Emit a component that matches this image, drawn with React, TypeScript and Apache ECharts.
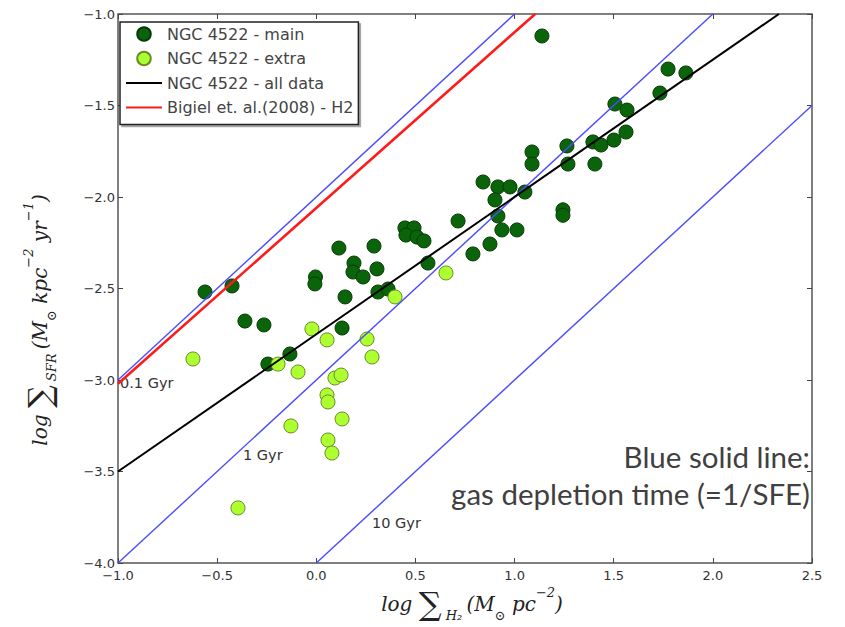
import React, { useEffect, useRef } from "react";
import * as echarts from "echarts";

// ---- Data ----
// NGC 4522 - main : [log Σ_H2, log Σ_SFR]
const mainPoints: [number, number][] = [
  [-0.561, -2.519], [-0.425, -2.486], [-0.36, -2.678], [-0.264, -2.699],
  [-0.244, -2.913], [-0.133, -2.858], [-0.004, -2.437], [-0.007, -2.475],
  [0.114, -2.279], [0.13, -2.716], [0.145, -2.546], [0.19, -2.361],
  [0.185, -2.41], [0.236, -2.437], [0.306, -2.393], [0.291, -2.268],
  [0.311, -2.519], [0.362, -2.503], [0.447, -2.169], [0.493, -2.169],
  [0.452, -2.208], [0.508, -2.219], [0.543, -2.24], [0.563, -2.361],
  [0.715, -2.131], [0.79, -2.311], [0.876, -2.257], [0.841, -1.918],
  [0.916, -1.945], [0.977, -1.945], [0.901, -2.016], [1.052, -1.973],
  [0.916, -2.104], [0.936, -2.18], [1.012, -2.18], [1.244, -2.07],
  [1.244, -2.1], [1.088, -1.754], [1.088, -1.82], [1.264, -1.721],
  [1.269, -1.82], [1.405, -1.82], [1.395, -1.699], [1.436, -1.716],
  [1.501, -1.689], [1.562, -1.645], [1.506, -1.492], [1.567, -1.525],
  [1.733, -1.432], [1.774, -1.301], [1.864, -1.322], [1.138, -1.12],
];

// NGC 4522 - extra
const extraPoints: [number, number][] = [
  [-0.622, -2.885], [-0.193, -2.913], [-0.092, -2.956], [-0.022, -2.721],
  [0.054, -2.781], [0.256, -2.776], [0.281, -2.874], [0.094, -2.989],
  [0.125, -2.973], [0.054, -3.082], [0.059, -3.12], [0.13, -3.213],
  [-0.128, -3.251], [0.059, -3.328], [0.079, -3.399], [-0.395, -3.699],
  [0.397, -2.546], [0.654, -2.415],
];

// Fit to all data (end points)
const allDataFit: [number, number][] = [[-1.0, -3.5], [2.333, -1.0]];
// Bigiel et al. (2008) - H2
const bigielLine: [number, number][] = [[-1.0, -3.02], [1.104, -1.0]];
// Gas depletion times
const tdep01: [number, number][] = [[-1.0, -3.0], [1.0, -1.0]];
const tdep1: [number, number][] = [[-1.0, -4.0], [2.0, -1.0]];
const tdep10: [number, number][] = [[0.0, -4.0], [2.5, -1.5]];

const seriesNames = [
  "NGC 4522 - main",
  "NGC 4522 - extra",
  "NGC 4522 - all data",
  "Bigiel et. al.(2008) - H2",
];
const gyrLabels = ["0.1 Gyr", "1 Gyr", "10 Gyr"];
const noteLines = ["Blue solid line:", "gas depletion time (=1/SFE)"];

const X_MIN = -1.0, X_MAX = 2.5, X_STEP = 0.5;
const Y_MIN = -4.0, Y_MAX = -1.0, Y_STEP = 0.5;

const fmt = (v: number) => v.toFixed(1).replace("-", "\u2212");

export default function App() {
  const ref = useRef<HTMLDivElement>(null);
  useEffect(() => {
    document.body.style.margin = "0";
    if (!ref.current) return;
    const chart = echarts.init(ref.current, null, { renderer: "svg" });
    const tickFont = {
      fontFamily: "DejaVu Sans",
      fontSize: 13,
      color: "#333",
    };
    const serifI = { fontFamily: "DejaVu Serif", fontStyle: "italic", fontSize: 20, fill: "#222" };
    const rich = {
      i: { ...serifI, lineHeight: 36 },
      big: { fontFamily: "DejaVu Serif", fontSize: 32, fill: "#222", lineHeight: 36 },
      sub: { ...serifI, fontSize: 13, verticalAlign: "bottom", lineHeight: 24 },
      sup: { ...serifI, fontSize: 13, verticalAlign: "top", lineHeight: 24 },
    };
    const hiddenAxisLine = { show: false, onZero: false };
    const tick = { show: true, inside: true, length: 5, lineStyle: { color: "#444" } };
    const blueLine = (data: [number, number][]) => ({
      type: "line",
      data,
      symbol: "none",
      silent: true,
      z: 4,
      lineStyle: { color: "#4b4bff", width: 1.4 },
    });
    const gyrStyle = { fontFamily: "DejaVu Sans", fontSize: 14.5, fill: "#333", verticalAlign: "middle" };
    const noteStyle = { fontFamily: "Lato", fontSize: 29.5, fill: "#404040", align: "right", verticalAlign: "middle" };
    const option: any = {
      animation: false,
      grid: {
        left: 118,
        top: 14,
        right: 33,
        bottom: 64,
        show: true,
        borderColor: "#555",
        borderWidth: 1.5,
        backgroundColor: "#fff",
      },
      xAxis: [
        {
          type: "value", min: X_MIN, max: X_MAX, interval: X_STEP,
          axisLine: hiddenAxisLine, splitLine: { show: false }, axisTick: tick,
          axisLabel: { ...tickFont, margin: 6, formatter: fmt },
        },
        {
          type: "value", position: "top", min: X_MIN, max: X_MAX, interval: X_STEP,
          axisLine: hiddenAxisLine, splitLine: { show: false }, axisTick: tick,
          axisLabel: { show: false },
        },
      ],
      yAxis: [
        {
          type: "value", position: "left", min: Y_MIN, max: Y_MAX, interval: Y_STEP,
          axisLine: hiddenAxisLine, splitLine: { show: false }, axisTick: tick,
          axisLabel: { ...tickFont, margin: 3, formatter: fmt },
        },
        {
          type: "value", position: "right", min: Y_MIN, max: Y_MAX, interval: Y_STEP,
          axisLine: hiddenAxisLine, splitLine: { show: false }, axisTick: tick,
          axisLabel: { show: false },
        },
      ],
      legend: {
        data: seriesNames,
        orient: "vertical",
        left: 120,
        top: 22,
        padding: [4, 5, 9, 5],
        itemGap: 8.5,
        itemWidth: 36,
        itemHeight: 13.5,
        backgroundColor: "#fff",
        borderColor: "#222",
        borderWidth: 1.5,
        shadowColor: "rgba(0,0,0,0.35)",
        shadowOffsetX: 2,
        shadowOffsetY: 2,
        shadowBlur: 1,
        textStyle: { fontFamily: "DejaVu Sans", fontSize: 16, color: "#444" },
        selectedMode: false,
      },
      series: [
        {
          name: seriesNames[0],
          type: "scatter",
          data: mainPoints,
          symbol: "circle",
          symbolSize: 14,
          z: 2,
          itemStyle: { color: "#0a650a", borderColor: "#073a07", borderWidth: 1, opacity: 1 },
        },
        {
          name: seriesNames[1],
          type: "scatter",
          data: extraPoints,
          symbol: "circle",
          symbolSize: 14,
          z: 2,
          itemStyle: { color: "#adff2f", borderColor: "#6a8a2a", borderWidth: 1, opacity: 1 },
        },
        blueLine(tdep01),
        blueLine(tdep1),
        blueLine(tdep10),
        {
          name: seriesNames[2],
          type: "line",
          data: allDataFit,
          symbol: "none",
          z: 5,
          lineStyle: { color: "#000", width: 2 },
          itemStyle: { color: "rgba(0,0,0,0)", borderWidth: 0 },
        },
        {
          name: seriesNames[3],
          type: "line",
          data: bigielLine,
          symbol: "none",
          z: 5,
          lineStyle: { color: "#ff1a1a", width: 2.6 },
          itemStyle: { color: "rgba(0,0,0,0)", borderWidth: 0 },
        },
      ],
      graphic: [
        { type: "text", x: 120, y: 383, style: { text: gyrLabels[0], ...gyrStyle } },
        { type: "text", x: 243, y: 455, style: { text: gyrLabels[1], ...gyrStyle } },
        { type: "text", x: 372, y: 523, style: { text: gyrLabels[2], ...gyrStyle } },
        { type: "text", x: 810, y: 456, style: { text: noteLines[0], ...noteStyle } },
        { type: "text", x: 810, y: 493, style: { text: noteLines[1], ...noteStyle } },
        {
          type: "text",
          x: 40,
          y: 320,
          rotation: Math.PI / 2,
          style: {
            text: "{i|log }{big|\u2211}{sub| SFR }{i|(M}{sub|\u2299}{i| kpc}{sup|\u22122}{i| yr}{sup|\u22121}{i|)}",
            align: "center",
            verticalAlign: "middle",
            rich,
          },
        },
        {
          type: "text",
          x: 472,
          y: 604,
          style: {
            text: "{i|log }{big|\u2211}{sub| H\u2082 }{i|(M}{sub|\u2299}{i| pc}{sup|\u22122}{i|)}",
            align: "center",
            verticalAlign: "middle",
            rich,
          },
        },
      ],
    };
    chart.setOption(option);
    return () => chart.dispose();
  }, []);
  return <div ref={ref} style={{ width: 845, height: 627 }} />;
}
